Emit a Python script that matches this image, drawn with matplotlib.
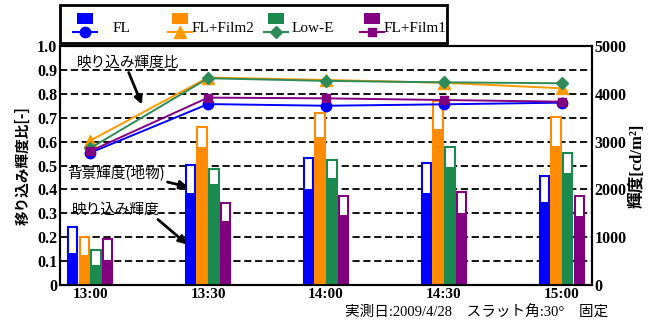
import numpy as np
import matplotlib
matplotlib.use("Agg")
import matplotlib.pyplot as plt
from matplotlib.patches import Rectangle
from matplotlib.lines import Line2D

# ---- data ----
times = ["13:00", "13:30", "14:00", "14:30", "15:00"]
series = ["FL", "FL+Film2", "Low-E", "FL+Film1"]
colors = ["#0000ff", "#ff8c00", "#1a8a4e", "#800080"]
line_colors = ["#0000ff", "#ff9900", "#2e8b57", "#800080"]
markers = ["o", "^", "D", "s"]
msizes = [7.5, 8, 6.5, 6]

# reflection luminance ratio [-] (left axis)
ratio_fl = [0.553, 0.757, 0.750, 0.756, 0.763]
ratio_film2 = [0.604, 0.868, 0.858, 0.846, 0.823]
ratio_lowe = [0.572, 0.865, 0.854, 0.848, 0.844]
ratio_film1 = [0.560, 0.784, 0.781, 0.774, 0.767]

# background luminance (outline bars) [cd/m2] (right axis)
bg_fl = [1205, 2510, 2650, 2560, 2280]
bg_film2 = [1010, 3310, 3590, 3855, 3520]
bg_lowe = [730, 2420, 2615, 2895, 2765]
bg_film1 = [955, 1710, 1860, 1940, 1860]

# reflected luminance (filled bars) [cd/m2]
re_fl = [676, 1920, 2000, 1930, 1730]
re_film2 = [628, 2880, 3090, 3255, 2910]
re_lowe = [418, 2105, 2230, 2460, 2350]
re_film1 = [523, 1340, 1465, 1510, 1445]

left_ticks = [0, 0.1, 0.2, 0.3, 0.4, 0.5, 0.6, 0.7, 0.8, 0.9, 1.0]
left_labels = ["0", "0.1", "0.2", "0.3", "0.4", "0.5", "0.6", "0.7", "0.8", "0.9", "1.0"]
right_ticks = [0, 1000, 2000, 3000, 4000, 5000]
grid_levels = [500, 1000, 1500, 2000, 2500, 3000, 3500, 4000, 4500]

ratios = [ratio_fl, ratio_film2, ratio_lowe, ratio_film1]
bgs = [bg_fl, bg_film2, bg_lowe, bg_film1]
refs = [re_fl, re_film2, re_lowe, re_film1]

serif = ["Liberation Serif", "Noto Sans CJK JP"]
gothic = ["Noto Sans CJK JP", "DejaVu Sans"]

fig = plt.figure(figsize=(6.58, 3.23), dpi=100)
ax = fig.add_axes([0.0912, 0.1176, 0.8085, 0.74])
ax2 = ax.twinx()

x = np.arange(len(times))
pitch = 0.099
width = 0.08

# bars and grid on the right axis (behind the lines)
for v in grid_levels:
    ax2.axhline(v, color="black", lw=1.3, ls=(0, (4, 2)), zorder=0)
for i in range(len(series)):
    xs = x + (i - 1.5) * pitch
    ax2.bar(xs, bgs[i], width, facecolor="white", edgecolor=colors[i], linewidth=1.5, zorder=2)
    ax2.bar(xs, refs[i], width + 0.006, color=colors[i], linewidth=0, zorder=3)
ax2.set_ylim(0, 5000)
ax2.set_yticks(right_ticks)
ax2.set_yticklabels([str(t) for t in right_ticks], fontfamily=serif, fontweight="bold", fontsize=11.5)
ax2.tick_params(axis="y", length=0, pad=2)
ax2.set_ylabel("輝度[cd/m²]", family=serif, fontweight="bold", fontsize=12, labelpad=2)

# lines on left axis
ax.set_zorder(ax2.get_zorder() + 1)
ax.patch.set_visible(False)
for i in range(len(series)):
    ax.plot(x, ratios[i], color=line_colors[i], marker=markers[i], markersize=msizes[i], lw=1.4, zorder=4)
ax.set_ylim(0, 1.0)
ax.set_xlim(-0.255, 4.255)
ax.set_yticks(left_ticks)
ax.set_yticklabels(left_labels, fontfamily=serif, fontweight="bold", fontsize=11.5)
ax.set_xticks(x)
ax.set_xticklabels(times, fontfamily=serif, fontweight="bold", fontsize=11)
ax.tick_params(axis="both", length=0, pad=2)
ax.set_ylabel("移り込み輝度比[-]", family=gothic, fontweight="bold", fontsize=10.5, labelpad=5)
for a in (ax, ax2):
    for s in a.spines.values():
        s.set_linewidth(1.5)

# annotations
arr = dict(arrowstyle="-|>", color="black", lw=2, mutation_scale=12)
ax.annotate("映り込み輝度比", xy=(0.154, 0.755), xytext=(0.127, 0.93), xycoords="axes fraction",
            textcoords="axes fraction", fontsize=10.5, family=gothic, ha="center", va="center",
            arrowprops=dict(arr, shrinkA=0, shrinkB=0, relpos=(0.5, 0.0)))
ax.annotate("背景輝度(地物)", xy=(0.241, 0.41), xytext=(0.105, 0.47), xycoords="axes fraction",
            textcoords="axes fraction", fontsize=10.5, family=gothic, ha="center", va="center",
            arrowprops=dict(arr, shrinkA=0, shrinkB=0, relpos=(0.82, 0.2)))
ax.annotate("映り込み輝度", xy=(0.239, 0.17), xytext=(0.104, 0.315), xycoords="axes fraction",
            textcoords="axes fraction", fontsize=10.5, family=gothic, ha="center", va="center",
            arrowprops=dict(arr, shrinkA=0, shrinkB=0, relpos=(0.93, 0.1)))

# legend drawn by hand (bar patch above a line+marker key)
W, H = 658.0, 323.0
fig.patches.append(Rectangle((60 / W, 1 - 43 / H), 387 / W, 38 / H, transform=fig.transFigure,
                             fill=False, edgecolor="black", lw=2))
key_x = [85, 180, 276, 372]
txt_x = [113, 192, 292, 384]
for i in range(len(series)):
    cx = key_x[i]
    fig.patches.append(Rectangle(((cx - 8) / W, 1 - 24 / H), 16 / W, 11 / H, transform=fig.transFigure,
                                 facecolor=colors[i], edgecolor="none"))
    fig.lines.append(Line2D([(cx - 12) / W, (cx + 12) / W], [1 - 32 / H, 1 - 32 / H], transform=fig.transFigure,
                            color=line_colors[i], lw=1.5))
    fig.lines.append(Line2D([cx / W], [1 - 32 / H], transform=fig.transFigure, color=line_colors[i],
                            marker=markers[i], markersize=msizes[i]))
    fig.text(txt_x[i] / W, 1 - 28 / H, series[i], family=serif, fontsize=11, va="center", ha="left")

fig.text(345 / W, 1 - 313 / H, "実測日:2009/4/28　スラット角:30°　固定", family=serif,
         fontsize=10.5, va="center", ha="left")

fig.savefig("out.png", dpi=100)
